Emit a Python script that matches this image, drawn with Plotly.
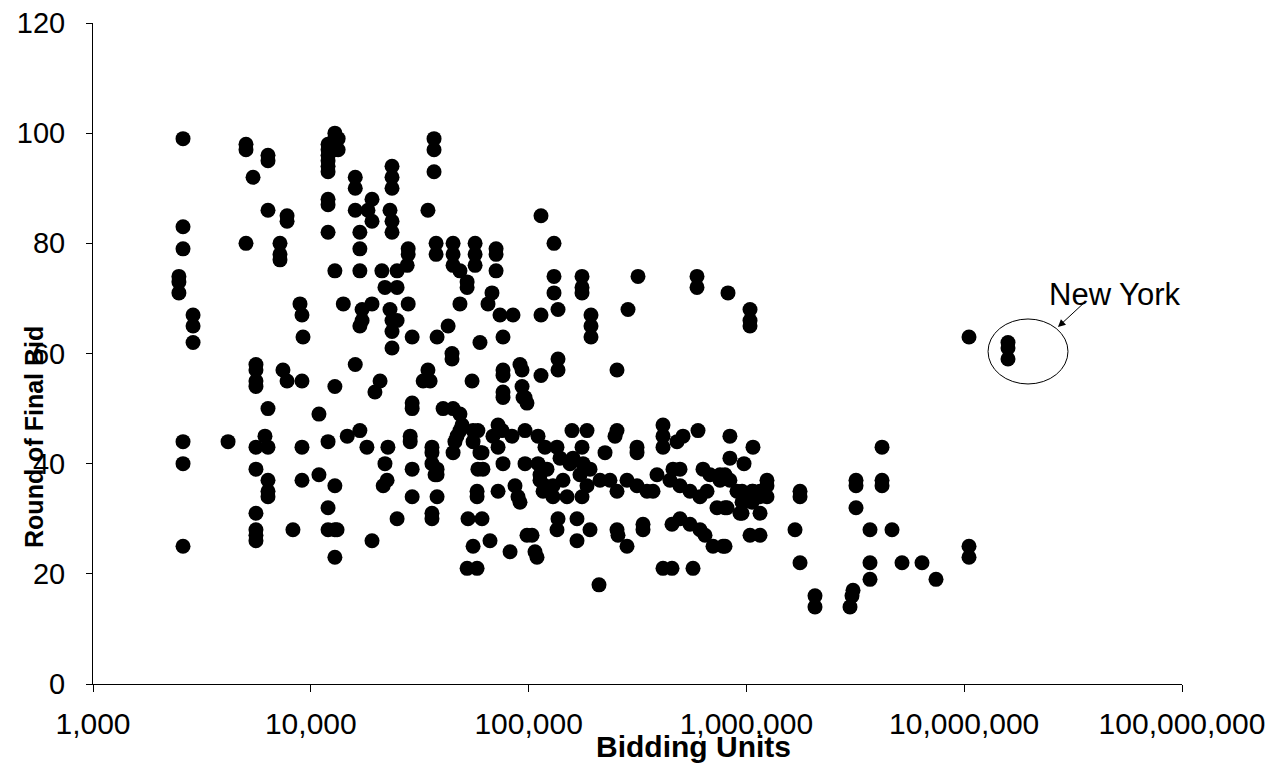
import plotly.graph_objects as go

# Bidding units (x) grouped by market; each group lists the final-bid rounds (y)
unit_columns = [
    2480, 2590, 2880, 4170, 5040, 5430, 5600, 6160, 6360, 7220, 7450, 7780, 8280, 8920,
    9110, 9210, 10900, 12000, 12900, 13200, 13350, 14100, 14700, 16000, 16800, 17200,
    18100, 18300, 19100, 19700, 20800, 21200, 21500, 21900, 22400, 22600, 23100, 23600,
    24900, 27700, 28000, 28600, 29200, 32800, 34500, 35300, 36000, 36800, 37200, 37600,
    38000, 40500, 42700, 44500, 45000, 45900, 46900, 48400, 49500, 52200, 52700, 55000,
    55600, 56800, 58000, 58500, 59800, 61100, 61700, 65100, 66500, 67900, 68600, 70900,
    72400, 73900, 75500, 76300, 82200, 83900, 84800, 86600, 89400, 91300, 93300, 94300,
    96300, 98300, 103700, 107000, 109300, 110500, 112800, 114000, 116500, 118900, 121500,
    129400, 130800, 135000, 136500, 139400, 143900, 150100, 155000, 158200, 159900,
    166800, 172200, 175900, 177800, 185400, 191400, 193400, 210500, 212700, 224300,
    236400, 249300, 254600, 257300, 283000, 286000, 314600, 317900, 335200, 349600,
    372600, 388600, 414100, 445900, 455400, 460300, 480200, 495600, 511600, 550800,
    568600, 593200, 599500, 612400, 632100, 645600, 659400, 680600, 702500, 732800,
    756500, 780900, 797700, 814600, 823200, 840000, 905100, 934500, 955000, 964700,
    975000, 1039000, 1062000, 1072000, 1155000, 1243000, 1672000, 1763000, 2065000,
    2990000, 3054000, 3087000, 3186000, 3694000, 4195000, 4662000, 5182000, 6401000,
    7423000, 10520000, 15890000,
]

rounds_by_column = [
    [74, 73, 71], [99, 83, 79, 44, 40, 25], [67, 65, 62], [44], [98, 97, 80], [92],
    [58, 57, 55, 54, 43, 39, 31, 28, 27, 26], [45], [96, 95, 86, 50, 43, 37, 35, 34],
    [80, 78, 77], [57], [85, 84, 55], [28], [69], [67, 55, 43, 37], [63], [49, 38],
    [98, 97, 96, 95, 94, 93, 88, 87, 82, 44, 32, 28], [100, 99, 98, 97, 75, 54, 36, 28, 23],
    [28], [99, 97], [69], [45], [92, 90, 86, 58], [82, 79, 75, 65, 46], [68, 66],
    [43], [86], [88, 84, 69, 26], [53], [55], [75], [36], [72, 40], [37], [43],
    [86, 68], [94, 92, 90, 84, 82, 66, 64, 61],
    [75, 72, 66, 30], [76], [79, 78, 69], [45, 44], [63, 51, 50, 39, 34], [55], [86, 57],
    [55], [43, 42, 40, 31, 30], [99, 97, 93], [38], [80, 78],
    [63, 39, 38, 34], [50], [65], [60, 59], [80, 78, 76, 50, 42], [44], [45], [75, 69, 49, 46],
    [47], [73, 72, 21], [30], [55],
    [46, 44, 25], [80, 78, 76], [35, 34, 21], [46, 39], [62, 42], [42, 30], [39], [69],
    [26], [71], [45], [79, 78, 75],
    [47, 43, 35], [67], [46], [63, 57, 56, 53, 52, 40], [24], [45], [67], [36], [34],
    [58, 33], [57, 54], [52],
    [52, 46, 40], [51, 27], [27], [24], [23], [45, 40], [38, 37], [85, 67, 56], [35],
    [43, 36], [39],
    [36, 34], [80, 74, 71], [43, 28], [68, 59, 57, 30], [41], [37], [34], [40], [46],
    [41], [30, 26], [38], [74, 72, 71, 43, 34], [40], [46, 36], [39, 28], [67, 65, 63],
    [18], [37], [42],
    [37], [45], [57, 46, 35, 28], [27], [37, 25], [68], [43, 42, 36], [74], [29, 28], [35],
    [35], [38], [47, 45, 43, 21], [37], [29, 21], [39], [44], [39, 36, 30], [45], [35, 29],
    [21], [74, 72], [46], [34, 28], [39], [27], [35], [38], [25], [32],
    [38, 37], [25], [38, 32, 25], [32], [71], [45, 41, 37], [35], [31], [35, 33, 31], [34],
    [40], [68, 66, 65, 27], [35, 33], [43, 35], [35, 34, 31, 27], [37, 36, 34], [28],
    [35, 34, 22], [16, 14],
    [14], [16], [17], [37, 36, 32], [28, 22, 19], [43, 37, 36], [28], [22], [22],
    [19], [63, 25, 23], [62, 61, 59],
]

x_tick_values = [1e3, 1e4, 1e5, 1e6, 1e7, 1e8]
x_tick_labels = ["1,000", "10,000", "100,000", "1,000,000", "10,000,000", "100,000,000"]
y_tick_values = [0, 20, 40, 60, 80, 100, 120]

bidding_units = []
final_round = []
for units, rounds in zip(unit_columns, rounds_by_column):
    for r in rounds:
        bidding_units.append(units)
        final_round.append(r)

FONT = "Arial, 'Liberation Sans', sans-serif"

fig = go.Figure(
    go.Scatter(
        x=bidding_units,
        y=final_round,
        mode="markers",
        marker=dict(size=15, color="black", line=dict(width=0)),
        hoverinfo="x+y",
    )
)

# The page body adds an 8px margin, so the figure is sized to fit the window.
fig.update_layout(
    width=1267,
    height=759,
    margin=dict(l=85, r=93, t=15, b=83, autoexpand=False),
    paper_bgcolor="white",
    plot_bgcolor="white",
    showlegend=False,
    font=dict(family=FONT, color="black", size=30),
    xaxis=dict(
        type="log",
        range=[3, 8],
        tickvals=x_tick_values,
        ticktext=x_tick_labels,
        showline=True,
        linecolor="black",
        linewidth=1,
        ticks="outside",
        ticklen=7,
        tickcolor="black",
        showgrid=False,
        zeroline=False,
        tickfont=dict(size=30),
        ticklabelstandoff=6,
        ticklabeloverflow="allow",
        automargin=False,
    ),
    yaxis=dict(
        range=[0, 120],
        tickvals=y_tick_values,
        showline=True,
        linecolor="black",
        linewidth=1,
        ticks="outside",
        ticklen=6,
        tickcolor="black",
        showgrid=False,
        zeroline=False,
        tickfont=dict(size=29),
        ticklabelstandoff=15,
        ticklabeloverflow="allow",
        automargin=False,
    ),
    shapes=[
        dict(
            type="circle",
            xref="paper",
            yref="paper",
            x0=0.8219,
            x1=0.8953,
            y0=0.4539,
            y1=0.5522,
            line=dict(color="black", width=1),
        )
    ],
    annotations=[
        dict(
            text="<b>Bidding Units</b>",
            xref="paper",
            yref="paper",
            x=0.551,
            y=-0.0938,
            showarrow=False,
            font=dict(size=30),
            xanchor="center",
            yanchor="middle",
        ),
        dict(
            text="<b>Round of Final Bid</b>",
            xref="paper",
            yref="paper",
            x=-0.0542,
            y=0.3737,
            textangle=-90,
            showarrow=False,
            font=dict(size=25),
            xanchor="center",
            yanchor="middle",
        ),
        dict(
            text="New York",
            xref="paper",
            yref="paper",
            x=0.9376,
            y=0.590,
            showarrow=False,
            font=dict(size=31),
            xanchor="center",
            yanchor="middle",
        ),
        dict(
            text="",
            xref="paper",
            yref="paper",
            x=0.8861,
            y=0.5401,
            showarrow=True,
            arrowhead=2,
            arrowsize=1.5,
            arrowwidth=1,
            arrowcolor="black",
            ax=27,
            ay=-25,
        ),
    ],
)

fig.write_html("out.html")
